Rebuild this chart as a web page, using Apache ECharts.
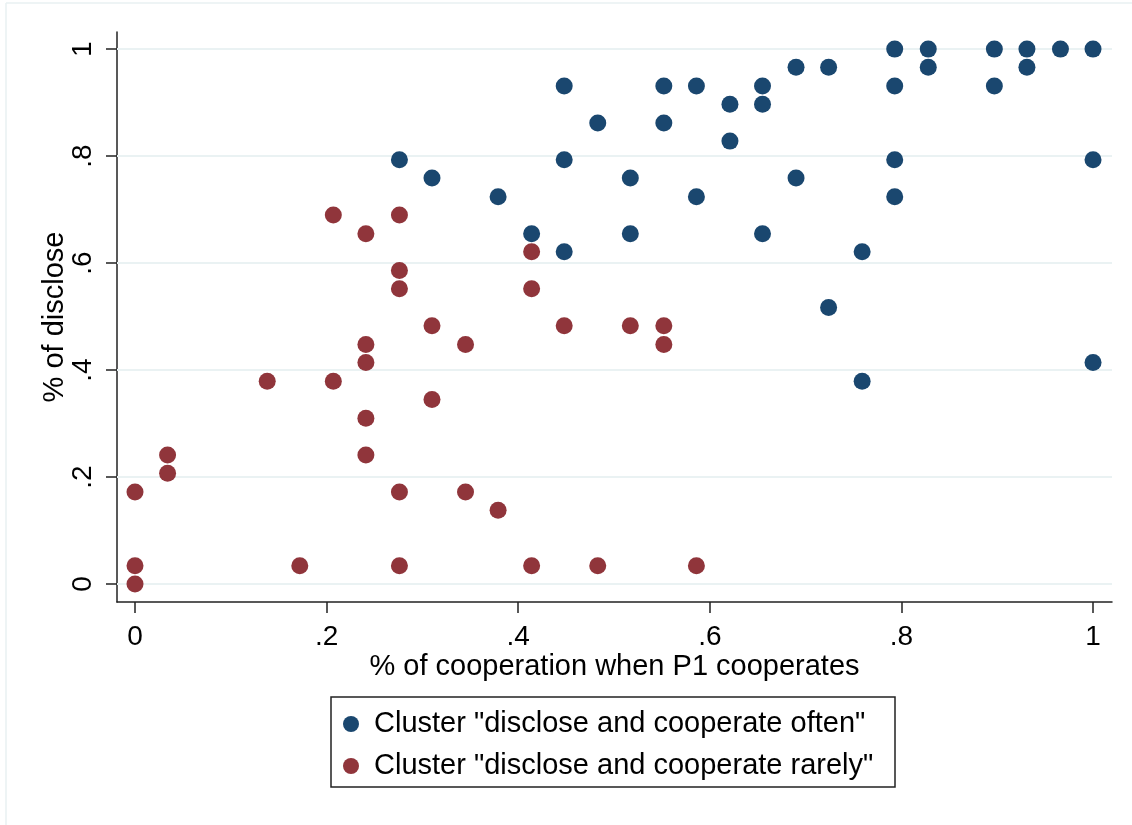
<!DOCTYPE html>
<html>
<head>
<meta charset="utf-8">
<script src="https://cdn.jsdelivr.net/npm/echarts@6/dist/echarts.min.js"></script>
<style>
  html, body { margin: 0; padding: 0; background: #fff; }
  #chart { width: 1132px; height: 825px; }
</style>
</head>
<body>
<div id="chart"></div>
<script>
// cluster "often" (blue)
const xOften = [1, 0.966, 0.931, 0.897, 0.828, 0.793, 0.931, 0.828, 0.897, 0.793,
  0.724, 0.690, 0.655, 0.655, 0.621, 0.621, 0.586, 0.552, 0.552, 0.483,
  0.448, 0.448, 0.276, 0.310, 0.379, 0.414, 0.448, 0.517, 0.517, 0.586,
  0.655, 0.690, 0.724, 0.759, 0.759, 0.793, 0.793, 1, 1];
const yOften = [1, 1, 1, 1, 1, 1, 0.966, 0.966, 0.931, 0.931,
  0.966, 0.966, 0.931, 0.897, 0.897, 0.828, 0.931, 0.931, 0.862, 0.862,
  0.931, 0.793, 0.793, 0.759, 0.724, 0.655, 0.621, 0.759, 0.655, 0.724,
  0.655, 0.759, 0.517, 0.621, 0.379, 0.793, 0.724, 0.793, 0.414];

// cluster "rarely" (red)
const xRarely = [0.207, 0.276, 0.241, 0.276, 0.276, 0.310, 0.241, 0.241, 0.345, 0.138,
  0.207, 0.310, 0.241, 0.414, 0.414, 0.448, 0.517, 0.552, 0.552, 0,
  0.034, 0.034, 0.241, 0.276, 0.345, 0.379, 0, 0, 0.172, 0.276,
  0.414, 0.483, 0.586];
const yRarely = [0.690, 0.690, 0.655, 0.586, 0.552, 0.483, 0.448, 0.414, 0.448, 0.379,
  0.379, 0.345, 0.310, 0.621, 0.552, 0.483, 0.483, 0.483, 0.448, 0.172,
  0.241, 0.207, 0.241, 0.172, 0.172, 0.138, 0.034, 0, 0.034, 0.034,
  0.034, 0.034, 0.034];

const tickVals = [0, 0.2, 0.4, 0.6, 0.8, 1];
const tickLabels = ['0', '.2', '.4', '.6', '.8', '1'];
const names = ['Cluster "disclose and cooperate often"', 'Cluster "disclose and cooperate rarely"'];

const FONT = 'Liberation Sans, Arial, sans-serif';
const fmt = v => tickLabels[tickVals.findIndex(t => Math.abs(t - v) < 1e-6)] ?? '';

const myChart = echarts.init(document.getElementById('chart'));

const option = {
  backgroundColor: '#fff',
  animation: false,
  grid: { left: 117, right: 20, top: 32, bottom: 223 },
  legend: {
    orient: 'vertical',
    left: 338,
    top: 704,
    itemWidth: 16,
    itemHeight: 16,
    itemGap: 12,
    icon: 'circle',
    textStyle: { fontFamily: FONT, fontSize: 29, color: '#000', lineHeight: 30, padding: [0, 0, 0, 10] },
    data: names
  },
  xAxis: {
    type: 'value',
    min: -0.0188,
    max: 1.0198,
    name: '% of cooperation when P1 cooperates',
    nameLocation: 'middle',
    nameGap: 50,
    nameMoveOverlap: false,
    nameTextStyle: { fontFamily: FONT, fontSize: 29, color: '#000' },
    axisLine: { show: true, onZero: false, lineStyle: { color: '#222', width: 1.5 } },
    axisTick: { show: true, length: 11, customValues: tickVals, lineStyle: { color: '#222', width: 1.5 } },
    axisLabel: { customValues: tickVals, formatter: fmt, margin: 21, fontFamily: FONT, fontSize: 28, color: '#000' },
    splitLine: { show: false }
  },
  yAxis: {
    type: 'value',
    min: -0.0336,
    max: 1.032,
    name: '% of disclose',
    nameLocation: 'middle',
    nameGap: 48,
    nameMoveOverlap: false,
    nameRotate: 90,
    nameTextStyle: { fontFamily: FONT, fontSize: 29, color: '#000' },
    axisLine: { show: true, onZero: false, lineStyle: { color: '#222', width: 1.5 } },
    axisTick: { show: true, length: 11, customValues: tickVals, lineStyle: { color: '#222', width: 1.5 } },
    axisLabel: { customValues: tickVals, formatter: fmt, rotate: 90, margin: 20, fontFamily: FONT, fontSize: 28, color: '#000' },
    splitLine: { show: false }
  },
  series: [
    {
      name: names[0],
      type: 'scatter',
      symbolSize: 17,
      itemStyle: { color: '#1a476f', opacity: 1 },
      data: xOften.map((x, i) => [x, yOften[i]]),
      z: 3,
      markLine: {
        silent: true,
        symbol: 'none',
        label: { show: false },
        lineStyle: { color: '#eaf2f3', width: 2, type: 'solid' },
        data: tickVals.map(v => ({ yAxis: v })),
        z: 1
      }
    },
    {
      name: names[1],
      type: 'scatter',
      symbolSize: 17,
      itemStyle: { color: '#90353b', opacity: 1 },
      data: xRarely.map((x, i) => [x, yRarely[i]]),
      z: 3
    }
  ],
  graphic: [
    { type: 'rect', shape: { x: 331, y: 697, width: 564, height: 90 }, style: { fill: 'none', stroke: '#222', lineWidth: 1.5 }, z: 0 },
    { type: 'line', shape: { x1: 6, y1: 3, x2: 1132, y2: 3 }, style: { stroke: '#e8f0f2', lineWidth: 1.5 } },
    { type: 'line', shape: { x1: 6, y1: 3, x2: 6, y2: 825 }, style: { stroke: '#e8f0f2', lineWidth: 1.5 } }
  ]
};

myChart.setOption(option);

window.addEventListener('resize', () => {
  myChart.resize();
});
</script>
</body>
</html>
